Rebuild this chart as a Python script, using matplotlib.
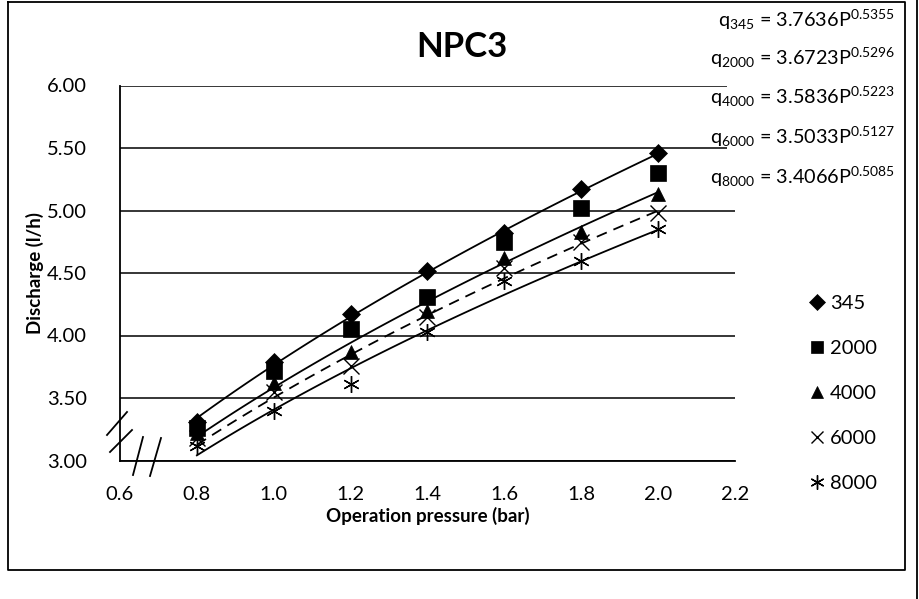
import matplotlib
matplotlib.use("Agg")
import matplotlib.pyplot as plt
import numpy as np
from matplotlib.lines import Line2D
from matplotlib.patches import Rectangle

plt.rcParams['font.family'] = ['Lato', 'DejaVu Sans']
plt.rcParams['mathtext.fontset'] = 'custom'
plt.rcParams['mathtext.rm'] = 'Lato'
plt.rcParams['mathtext.it'] = 'Lato'
plt.rcParams['mathtext.bf'] = 'Lato:bold'

# ---------------- data ----------------
pressure = [0.8, 1.0, 1.2, 1.4, 1.6, 1.8, 2.0]
q345 = [3.31, 3.79, 4.17, 4.52, 4.82, 5.17, 5.46]
q2000 = [3.26, 3.72, 4.05, 4.31, 4.75, 5.02, 5.30]
q4000 = [3.22, 3.62, 3.87, 4.20, 4.62, 4.83, 5.13]
q6000 = [3.18, 3.55, 3.76, 4.15, 4.54, 4.75, 4.98]
q8000 = [3.12, 3.40, 3.61, 4.03, 4.44, 4.60, 4.85]
series_labels = ['345', '2000', '4000', '6000', '8000']
coef_a = [3.7636, 3.6723, 3.5836, 3.5033, 3.4066]
coef_b = [0.5355, 0.5296, 0.5223, 0.5127, 0.5085]
x_ticks = [0.6, 0.8, 1.0, 1.2, 1.4, 1.6, 1.8, 2.0, 2.2]
y_ticks = [3.00, 3.50, 4.00, 4.50, 5.00, 5.50, 6.00]

W, H = 920, 599
fig = plt.figure(figsize=(W / 100, H / 100), dpi=100)

def fx(px):
    return px / W

def fy(py):
    return 1 - py / H

ax = fig.add_axes([fx(120), fy(460.5), fx(735) - fx(120), fy(85.5) - fy(460.5)])
ax.set_xlim(0.6, 2.2)
ax.set_ylim(3.0, 6.0)
ax.set_xticks(x_ticks)
ax.set_xticklabels([f"{v:.1f}" for v in x_ticks])
ax.set_yticks(y_ticks)
ax.set_yticklabels([f"{v:.2f}" for v in y_ticks])
ax.tick_params(axis='y', length=0, labelsize=14.5, pad=24)
ax.tick_params(axis='x', length=0, labelsize=14.5, pad=18)
for s in ['top', 'right']:
    ax.spines[s].set_visible(False)
for s in ['left', 'bottom']:
    ax.spines[s].set_color('black')
    ax.spines[s].set_linewidth(1.3)
ax.yaxis.grid(True, color='black', linewidth=1.1)
ax.set_axisbelow(True)

ax.set_xlabel('Operation pressure (bar)', fontsize=13.5, fontweight='bold', labelpad=3)
ax.set_ylabel('Discharge (l/h)', fontsize=13.5, fontweight='bold', labelpad=2)

# trend lines (power fits)
pp = np.linspace(pressure[0], pressure[-1], 100)
line_styles = {0: '-', 2: '-', 3: (0, (6, 4)), 4: '-'}
for i, ls in line_styles.items():
    ax.plot(pp, coef_a[i] * pp ** coef_b[i], color='black', linewidth=1.3, linestyle=ls, zorder=2)

all_q = [q345, q2000, q4000, q6000, q8000]
markers = ['D', 's', '^', 'x', (6, 2, 0)]
msizes = [9, 11, 10, 11, 12]
handles = []
for q, m, ms, lab in zip(all_q, markers, msizes, series_labels):
    h, = ax.plot(pressure, q, linestyle='none', marker=m, markersize=ms, color='black',
                 markeredgewidth=1.0 if m in ('x',) or isinstance(m, tuple) else 0.5,
                 label=lab, zorder=3)
    handles.append(h)

fig.legend(handles=handles, labels=series_labels, loc='upper left',
           bbox_to_anchor=(fx(797), fy(285)), frameon=False, fontsize=14.5,
           handlelength=1.0, handletextpad=0.15, labelspacing=1.38, borderpad=0,
           markerscale=0.85)

# title
fig.text(fx(462), fy(47), 'NPC3', fontsize=25, fontweight='bold', ha='center', va='center')

# white box behind equations
fig.add_artist(Rectangle((fx(727), fy(200)), fx(903) - fx(727), fy(6) - fy(200),
                         transform=fig.transFigure, facecolor='white', edgecolor='none', zorder=4))
eq_y = [20, 58, 97, 137, 177]
for lab, a, b, yy in zip(series_labels, coef_a, coef_b, eq_y):
    fig.text(fx(895), fy(yy), rf'q$_{{{lab}}}$ = {a:.4f}P$^{{{b:.4f}}}$', fontsize=14.3,
             ha='right', va='center', zorder=5)

# axis break marks
breaks = [((107, 435), (127, 412)), ((110, 452), (132, 430)),
          ((133, 475), (143, 437)), ((150, 476), (161, 438))]
for (x0, y0), (x1, y1) in breaks:
    fig.add_artist(Line2D([fx(x0), fx(x1)], [fy(y0), fy(y1)], transform=fig.transFigure,
                          color='black', linewidth=1.3))

# outer border
fig.add_artist(Line2D([fx(8), fx(8), fx(905), fx(905), fx(8)],
                      [fy(2), fy(570), fy(570), fy(2), fy(2)],
                      transform=fig.transFigure, color='black', linewidth=1.3))
fig.add_artist(Line2D([fx(917), fx(917)], [fy(0), fy(599)], transform=fig.transFigure,
                      color='black', linewidth=1.3))

fig.savefig('out.png', dpi=100)
